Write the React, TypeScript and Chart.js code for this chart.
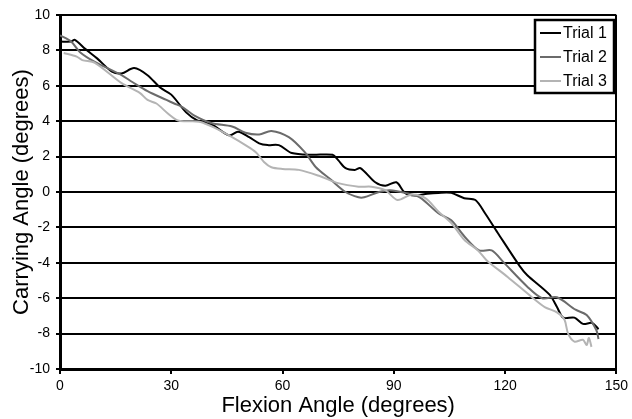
import React, { useEffect, useRef } from "react";
import { Chart, registerables } from "chart.js";

Chart.register(...registerables);

const seriesNames = ["Trial 1", "Trial 2", "Trial 3"];
const seriesColors = ["#000000", "#6b6b6b", "#b4b4b4"];

const trial1X = [0, 3, 4, 6.7, 10, 14, 16.6, 20, 23.6, 27, 30, 34, 37, 41, 45.6, 48, 51, 53.7, 56, 59, 62.5, 68, 73.5, 75, 77, 79.5, 81, 85, 87.7, 90.7, 93, 95.7, 99, 102, 105.5, 109, 112, 114.6, 118, 124, 126, 132, 134, 135.7, 138.7, 141, 143.5, 145.2];
const trial1Y = [8.5, 8.5, 8.6, 8.1, 7.55, 6.8, 6.7, 7.0, 6.6, 5.9, 5.5, 4.5, 4.05, 3.8, 3.2, 3.4, 3.1, 2.75, 2.65, 2.65, 2.2, 2.1, 2.1, 1.8, 1.35, 1.25, 1.35, 0.55, 0.35, 0.55, -0.05, -0.2, -0.1, -0.05, -0.05, -0.35, -0.45, -1.2, -2.3, -4.2, -4.7, -5.8, -6.5, -7.1, -7.1, -7.45, -7.4, -7.75];

const trial2X = [0, 3, 5.4, 9.4, 16.6, 19.6, 23.6, 28.7, 30.8, 33, 36, 40.8, 46.4, 50, 53.7, 57, 61.7, 66, 69, 73, 77, 80.5, 82, 86, 89, 93, 97, 102, 105.5, 109, 113, 116.4, 119.5, 126, 130, 134, 139, 142, 144.6, 145.2];
const trial2Y = [8.85, 8.5, 7.9, 7.35, 6.6, 6.2, 5.7, 5.2, 5.0, 4.8, 4.35, 3.9, 3.7, 3.35, 3.25, 3.45, 3.1, 2.25, 1.4, 0.7, 0, -0.3, -0.3, 0, 0.1, -0.05, -0.3, -1.2, -1.6, -2.5, -3.3, -3.3, -3.95, -5.35, -6.0, -5.95, -6.65, -6.95, -7.8, -8.3];

const trial3X = [1.0, 4.5, 6, 9.4, 16.6, 21.5, 23.6, 26, 29, 31.7, 34, 37.6, 42, 46.4, 50, 52.8, 55, 57, 60, 64.4, 70, 75, 80.5, 84, 87.7, 91, 94.7, 98.5, 102, 105.5, 109, 112.7, 115, 120.7, 127, 130.7, 134, 136, 137, 138.7, 141, 142, 142.6, 143.3];
const trial3Y = [7.85, 7.65, 7.45, 7.3, 6.15, 5.6, 5.2, 5.0, 4.45, 4.05, 4.0, 3.97, 3.6, 3.1, 2.65, 2.25, 1.7, 1.4, 1.3, 1.25, 0.9, 0.5, 0.3, 0.3, 0.1, -0.45, -0.15, -0.35, -1.1, -1.75, -2.7, -3.3, -3.85, -4.8, -5.9, -6.5, -6.8, -7.2, -8.0, -8.45, -8.35, -8.65, -8.25, -8.75];

const xTicks = [0, 30, 60, 90, 120, 150];
const yTicks = [-10, -8, -6, -4, -2, 0, 2, 4, 6, 8, 10];

const FONT = "'Liberation Sans', Arial, sans-serif";

function pts(xs: number[], ys: number[]) {
  return xs.map((x, i) => ({ x, y: ys[i] }));
}

const legendPlugin = {
  id: "boxLegend",
  afterDraw(chart: any) {
    const ctx = chart.ctx;
    const left = 535, top = 20, w = 79, h = 73;
    ctx.save();
    ctx.fillStyle = "#ffffff";
    ctx.fillRect(left, top, w, h);
    ctx.strokeStyle = "#000000";
    ctx.lineWidth = 2.5;
    ctx.strokeRect(left, top, w, h);
    ctx.font = `16px ${FONT}`;
    ctx.textBaseline = "middle";
    chart.data.datasets.forEach((ds: any, i: number) => {
      const y = top + 13 + i * 24;
      ctx.strokeStyle = ds.borderColor;
      ctx.lineWidth = 2;
      ctx.beginPath();
      ctx.moveTo(left + 5, y);
      ctx.lineTo(left + 26, y);
      ctx.stroke();
      ctx.fillStyle = "#000000";
      ctx.fillText(ds.label, left + 28, y + 1);
    });
    ctx.restore();
  },
};

export default function App() {
  const ref = useRef<HTMLCanvasElement>(null);
  useEffect(() => {
    document.body.style.margin = "0";
    const series = [pts(trial1X, trial1Y), pts(trial2X, trial2Y), pts(trial3X, trial3Y)];
    const chart = new Chart(ref.current!, {
      type: "scatter",
      data: {
        datasets: series.map((d, i) => ({
          label: seriesNames[i],
          data: d,
          showLine: true,
          borderColor: seriesColors[i],
          backgroundColor: seriesColors[i],
          borderWidth: 2,
          pointRadius: 0,
          tension: 0.3,
          order: 3 - i,
        })),
      },
      options: {
        animation: false,
        responsive: false,
        layout: { padding: { top: 15, right: 13, left: 0, bottom: 0 } },
        plugins: { legend: { display: false }, tooltip: { enabled: false } },
        scales: {
          x: {
            type: "linear",
            min: 0,
            max: 150,
            afterBuildTicks: (s: any) => { s.ticks = xTicks.map((v) => ({ value: v })); },
            afterFit: (s: any) => { s.height = 50; },
            ticks: { color: "#000", font: { family: FONT, size: 14 }, padding: 4 },
            grid: {
              color: (c: any) => (c.tick && c.tick.value === 150 ? "#000" : "rgba(0,0,0,0)"),
              tickColor: "#000",
              lineWidth: 2,
              tickLength: 5,
            },
            border: { color: "#000", width: 3 },
            title: {
              display: true,
              text: "Flexion Angle (degrees)",
              color: "#000",
              font: { family: FONT, size: 22, lineHeight: 0.85 },
              padding: { top: 0, bottom: 3.5 },
            },
          },
          y: {
            type: "linear",
            min: -10,
            max: 10,
            afterBuildTicks: (s: any) => { s.ticks = yTicks.map((v) => ({ value: v })); },
            afterFit: (s: any) => { s.width = 60; },
            ticks: { color: "#000", font: { family: FONT, size: 14 }, padding: 6 },
            grid: { color: "#000", lineWidth: 2, tickLength: 4 },
            border: { color: "#000", width: 3 },
            title: {
              display: true,
              text: "Carrying Angle (degrees)",
              color: "#000",
              font: { family: FONT, size: 22, lineHeight: 0.85 },
              padding: { top: 12.5, bottom: 0 },
            },
          },
        },
      },
      plugins: [legendPlugin],
    });
    return () => chart.destroy();
  }, []);
  return <canvas ref={ref} width={632} height={419} style={{ display: "block" }} />;
}
